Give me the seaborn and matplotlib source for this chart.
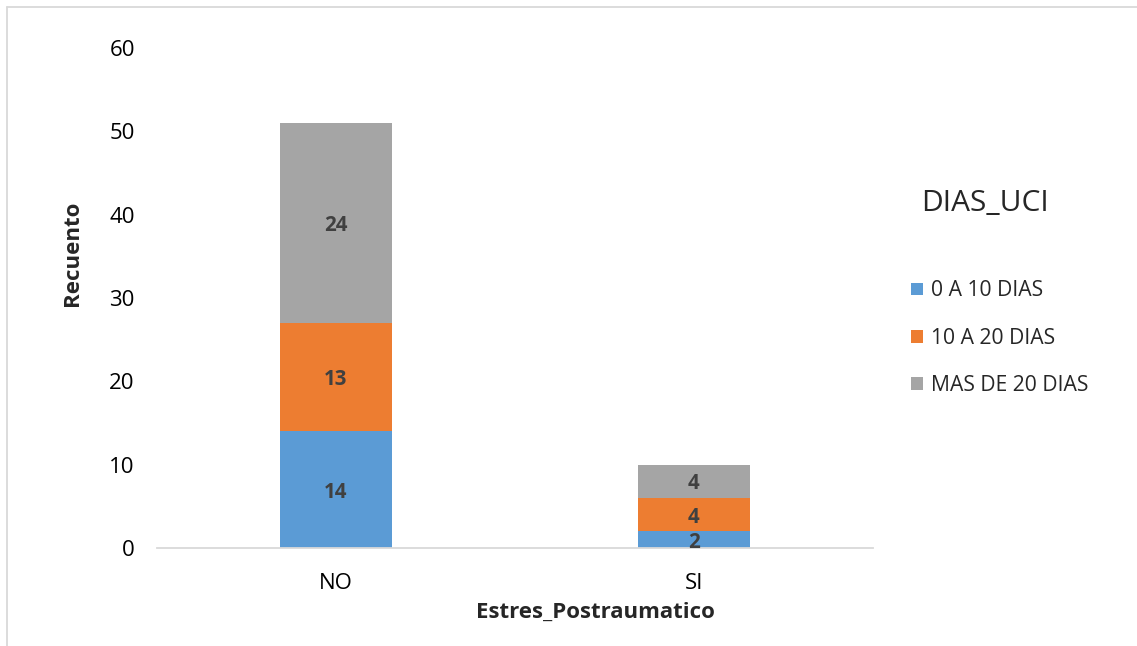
import matplotlib
matplotlib.use("Agg")
import matplotlib.pyplot as plt
import seaborn as sns
import pandas as pd
import numpy as np
from matplotlib.patches import Patch
from matplotlib.lines import Line2D

categories = ["NO", "SI"]
series_names = ["0 A 10 DIAS", "10 A 20 DIAS", "MAS DE 20 DIAS"]
dias_0_10 = [14, 2]
dias_10_20 = [13, 4]
dias_mas_20 = [24, 4]
colors = ["#5B9BD5", "#ED7D31", "#A5A5A5"]

sns.set_theme(style="white")
plt.rcParams['font.family'] = ['Open Sans', 'DejaVu Sans']

layers = [dias_0_10, dias_10_20, dias_mas_20]
cum = np.cumsum(np.array(layers), axis=0)

fig = plt.figure(figsize=(11.37, 6.46), dpi=100)
ax = fig.add_axes([157/1137, 1-548/646, (873-157)/1137, 500/646])

# draw back-to-front cumulative totals
for i in range(len(layers) - 1, -1, -1):
    df = pd.DataFrame({"cat": categories, "val": cum[i]})
    sns.barplot(data=df, x="cat", y="val", color=colors[i], width=0.315,
                saturation=1, ax=ax, linewidth=0)

# data labels
for i, layer in enumerate(layers):
    for j, v in enumerate(layer):
        mid = cum[i][j] - v / 2
        ax.text(j, mid, str(v), ha="center", va="center_baseline", fontsize=14.8,
                fontweight="bold", color="#404040")

ax.set_ylim(0, 60)
ax.set_xlim(-0.5, 1.5)
ax.set_yticks(range(0, 61, 10))
ax.tick_params(axis="y", length=0, pad=16, labelsize=16, labelcolor="#000000")
ax.tick_params(axis="x", length=0, pad=18, labelsize=16, labelcolor="#000000")
for s in ["top", "right", "left"]:
    ax.spines[s].set_visible(False)
ax.spines["bottom"].set_color("#D9D9D9")
ax.spines["bottom"].set_linewidth(1.3)
ax.set_xlabel("Estres_Postraumatico", fontsize=16, fontweight="bold")
ax.set_ylabel("Recuento", fontsize=16, fontweight="bold")
ax.xaxis.set_label_coords(0.612, -0.108)
ax.yaxis.set_label_coords(-0.103, 0.59)

handles = [Patch(facecolor=c, edgecolor="none") for c in colors]
leg = fig.legend(handles, series_names, title="DIAS_UCI", loc="upper left",
                 bbox_to_anchor=(892/1137, 1-170/646), frameon=False,
                 fontsize=15.2, title_fontsize=21.5, labelspacing=1.25,
                 handlelength=0.55, handleheight=0.55, handletextpad=0.4,
                 alignment="left")
leg._legend_box.sep = 45
leg.get_title().set_x(10)

# chart border
fig.add_artist(Line2D([7/1137, 7/1137], [0, 1-7/646], color="#D9D9D9", lw=1.3))
fig.add_artist(Line2D([7/1137, 1], [1-7/646, 1-7/646], color="#D9D9D9", lw=1.3))

fig.savefig("out.png", dpi=100)
